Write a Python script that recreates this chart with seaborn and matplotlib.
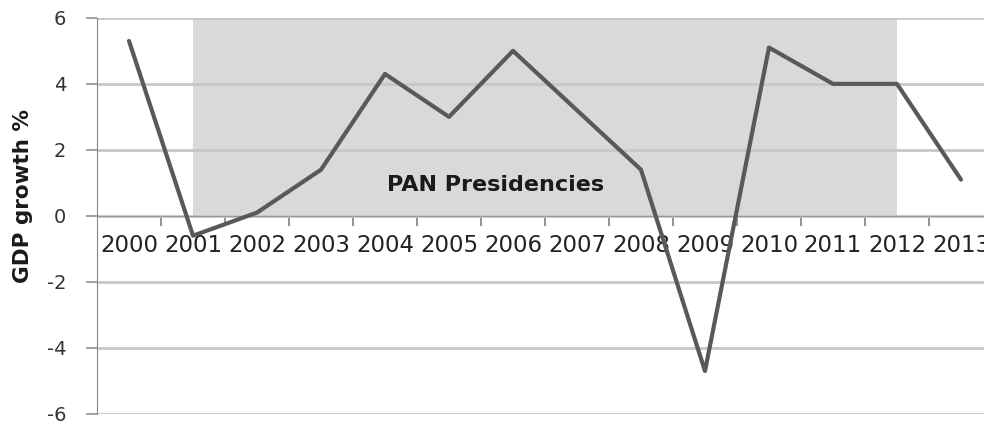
import numpy as np
import pandas as pd
import seaborn as sns
import matplotlib.pyplot as plt

## GDP growth of Mexico
years = [2000, 2001, 2002, 2003, 2004, 2005, 2006, 2007, 2008, 2009, 2010, 2011, 2012, 2013]
gdp_growth = [5.3, -0.6, 0.1, 1.4, 4.3, 3.0, 5.0, 3.2, 1.4, -4.7, 5.1, 4.0, 4.0, 1.1]

## PAN presidencies band
pan_start = 2001
pan_end = 2012
band_top = 6
band_label = "PAN Presidencies"

df = pd.DataFrame({"year": years, "growth": gdp_growth})

sns.set_style("white")
plt.rcParams["font.family"] = ["DejaVu Sans"]

fig = plt.figure(figsize=(9.84, 4.25), dpi=100)
ax = fig.add_axes([0.0986, 0.026, 0.9014, 0.932])

# grey band behind the line
ax.fill_between([pan_start, pan_end], 0, band_top, color="#d9d9d9", zorder=0, linewidth=0)

sns.lineplot(data=df, x="year", y="growth", color="#595959", linewidth=3, ax=ax, zorder=3)

ax.text(2005.72, 0.95, band_label, fontsize=16, fontweight="bold", color="#1a1a1a",
        ha="center", va="center", zorder=4)

## axes (spine moved first, it resets the ticks)
ax.spines["bottom"].set_position(("data", 0))
ax.spines["bottom"].set_color("#999999")
ax.spines["left"].set_color("#888888")
ax.spines["top"].set_visible(False)
ax.spines["right"].set_visible(False)

ax.set_xlim(years[0] - 0.5, 2013.36)
ax.set_ylim(-6, 6)
ax.set_yticks(np.arange(-6, 7, 2))
ax.set_yticklabels([str(v) for v in range(-6, 7, 2)])
ax.set_xticks(years)
ax.set_xticklabels([str(y) for y in years])
ax.set_xticks(np.arange(years[0] + 0.5, 2013.5, 1), minor=True)
ax.tick_params(axis="x", which="major", bottom=True, length=0, pad=13, labelsize=16.5,
               labelcolor="#222222")
ax.tick_params(axis="x", which="minor", bottom=True, length=7, width=1.2, color="#808080",
               direction="out")
ax.tick_params(axis="y", left=True, length=8, width=1.2, color="#909090", direction="out",
               pad=14, labelsize=14, labelcolor="#333333")

ax.grid(axis="y", color="#c8c8c8", linewidth=2, zorder=1)
ax.set_axisbelow(True)

ax.set_xlabel("")
ax.set_ylabel("GDP growth %", fontsize=15.5, fontweight="bold", color="#1a1a1a")
ax.yaxis.set_label_coords(-0.072, 0.55)

fig.savefig("out.png", dpi=100)
